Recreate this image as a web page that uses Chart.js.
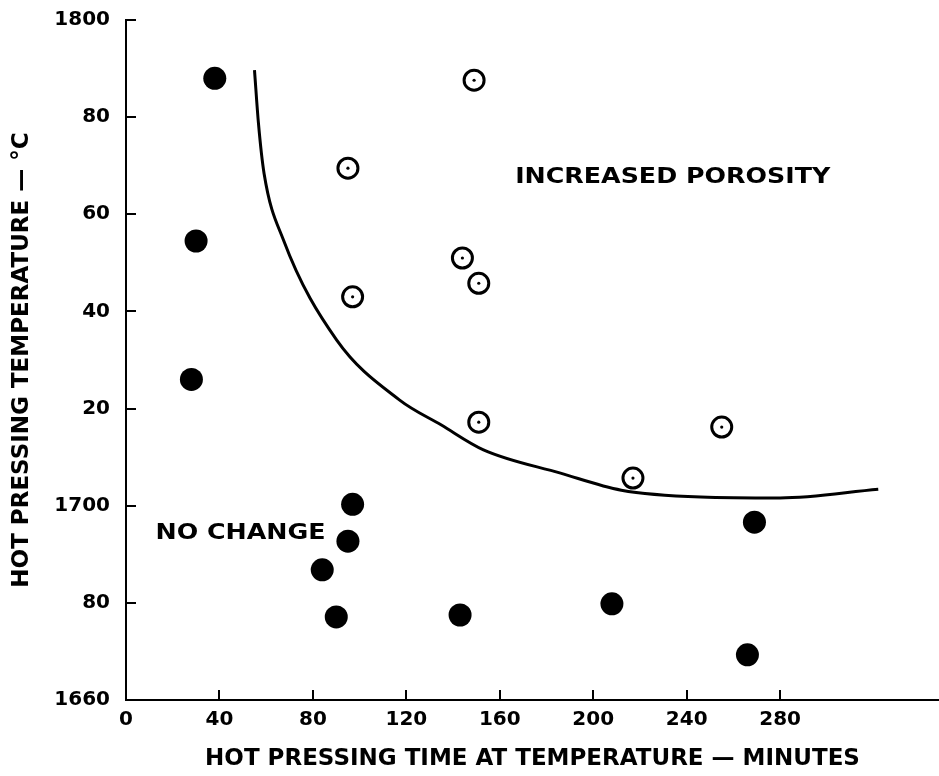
<!DOCTYPE html>
<html>
<head>
<meta charset="utf-8">
<script src="https://cdn.jsdelivr.net/npm/chart.js@4.4.0/dist/chart.umd.min.js"></script>
<style>
  html, body { margin: 0; padding: 0; background: #fff; }
  #wrap { width: 939px; height: 776px; }
</style>
</head>
<body>
<div id="wrap"><canvas id="chart"></canvas></div>
<script>
// values
// solid dots - no change
const noChangeTime = [38, 30, 28, 97, 95, 84, 90, 143, 208, 269, 266];
const noChangeTemp = [1788, 1754.5, 1726, 1700.3, 1692.7, 1686.8, 1677.1, 1677.5, 1679.8, 1696.6, 1669.3];
// open circles - increased porosity
const porosityTime = [149, 95, 144, 151, 97, 151, 255, 217];
const porosityTemp = [1787.6, 1769.5, 1751, 1745.8, 1743, 1717.2, 1716.2, 1705.7];
// boundary curve
const curveTime = [55, 56.7, 59.1, 67.4, 90.2, 117, 135, 153, 186, 212, 246, 280, 322];
const curveTemp = [1789.7, 1778.7, 1768.4, 1754.7, 1734.1, 1721.8, 1716.6, 1711.5, 1706.7, 1703.2, 1701.8, 1701.6, 1703.4];

const xTicks = [0, 40, 80, 120, 160, 200, 240, 280];
const yTicks = [1660, 1680, 1700, 1720, 1740, 1760, 1780, 1800];
const yTickLabels = ['1660', '80', '1700', '20', '40', '60', '80', '1800'];

const toPoints = (xs, ys) => xs.map((x, i) => ({x: x, y: ys[i]}));

const FONT = 'DejaVu Sans';

//region labels drawn in data coordinates
const regionText = {
  id: 'regionText',
  afterDatasetsDraw: (chart) => {
    const ctx = chart.ctx;
    const xs = chart.scales.x, ys = chart.scales.y;
    const items = [
      {text: 'INCREASED POROSITY', x: 234, y: 1767.7},
      {text: 'NO CHANGE', x: 49, y: 1694.4}
    ];
    ctx.save();
    ctx.fillStyle = '#000';
    ctx.font = 'bold 22px "' + FONT + '"';
    ctx.textAlign = 'center';
    ctx.textBaseline = 'middle';
    items.forEach(it => {
      const px = xs.getPixelForValue(it.x);
      const py = ys.getPixelForValue(it.y);
      ctx.save();
      ctx.translate(px, py);
      ctx.scale(1.15, 1);
      ctx.fillText(it.text, 0, 0);
      ctx.restore();
    });
    ctx.restore();
  }
};

const bg = {
  id: 'bg',
  beforeDraw: (chart) => {
    const ctx = chart.ctx;
    ctx.save();
    ctx.fillStyle = '#fff';
    ctx.fillRect(0, 0, chart.width, chart.height);
    ctx.restore();
  }
};

const config = {
  type: 'scatter',
  data: {
    datasets: [
      {
        data: toPoints(porosityTime, porosityTemp),
        pointRadius: 1.6,
        pointBackgroundColor: '#000',
        pointBorderWidth: 0
      },
      {
        data: toPoints(porosityTime, porosityTemp),
        pointRadius: 10,
        pointBackgroundColor: '#fff',
        pointBorderColor: '#000',
        pointBorderWidth: 3
      },
      {
        data: toPoints(noChangeTime, noChangeTemp),
        pointRadius: 11.5,
        pointBackgroundColor: '#000',
        pointBorderWidth: 0
      },
      {
        data: toPoints(curveTime, curveTemp),
        showLine: true,
        cubicInterpolationMode: 'monotone',
        borderColor: '#000',
        borderWidth: 3,
        pointRadius: 0
      }
    ]
  },
  options: {
    responsive: true,
    maintainAspectRatio: false,
    animation: false,
    layout: {autoPadding: false, padding: {top: 20, left: 0, right: 0, bottom: 0}},
    plugins: {legend: {display: false}, tooltip: {enabled: false}},
    scales: {
      x: {
        type: 'linear',
        min: 0,
        max: 348,
        afterBuildTicks: (s) => { s.ticks = xTicks.map(v => ({value: v})); },
        afterFit: (s) => { s.height = 76; s.paddingLeft = 0; s.paddingRight = 0; },
        ticks: {color: '#000', font: {family: FONT, size: 20, weight: 'bold'}, padding: 18, maxRotation: 0},
        grid: {drawOnChartArea: false, tickLength: -10, color: '#000', lineWidth: 2},
        border: {color: '#000', width: 2},
        title: {
          display: true,
          text: 'HOT PRESSING TIME AT TEMPERATURE — MINUTES',
          color: '#000',
          font: {family: FONT, size: 23, weight: 'bold'},
          padding: {top: 0, bottom: 3}
        }
      },
      y: {
        type: 'linear',
        min: 1660,
        max: 1800,
        afterBuildTicks: (s) => { s.ticks = yTicks.map(v => ({value: v})); },
        afterFit: (s) => { s.width = 126; s.paddingTop = 0; s.paddingBottom = 0; },
        ticks: {
          color: '#000',
          font: {family: FONT, size: 20, weight: 'bold'},
          padding: 26,
          callback: (v) => yTickLabels[yTicks.indexOf(v)]
        },
        grid: {drawOnChartArea: false, tickLength: -10, color: '#000', lineWidth: 2},
        border: {color: '#000', width: 2},
        title: {
          display: true,
          text: 'HOT PRESSING TEMPERATURE — °C',
          color: '#000',
          font: {family: FONT, size: 23, weight: 'bold'},
          padding: {top: 8, bottom: 0}
        }
      }
    }
  },
  plugins: [bg, regionText]
};

const chart = new Chart(document.getElementById('chart'), config);
</script>
</body>
</html>
